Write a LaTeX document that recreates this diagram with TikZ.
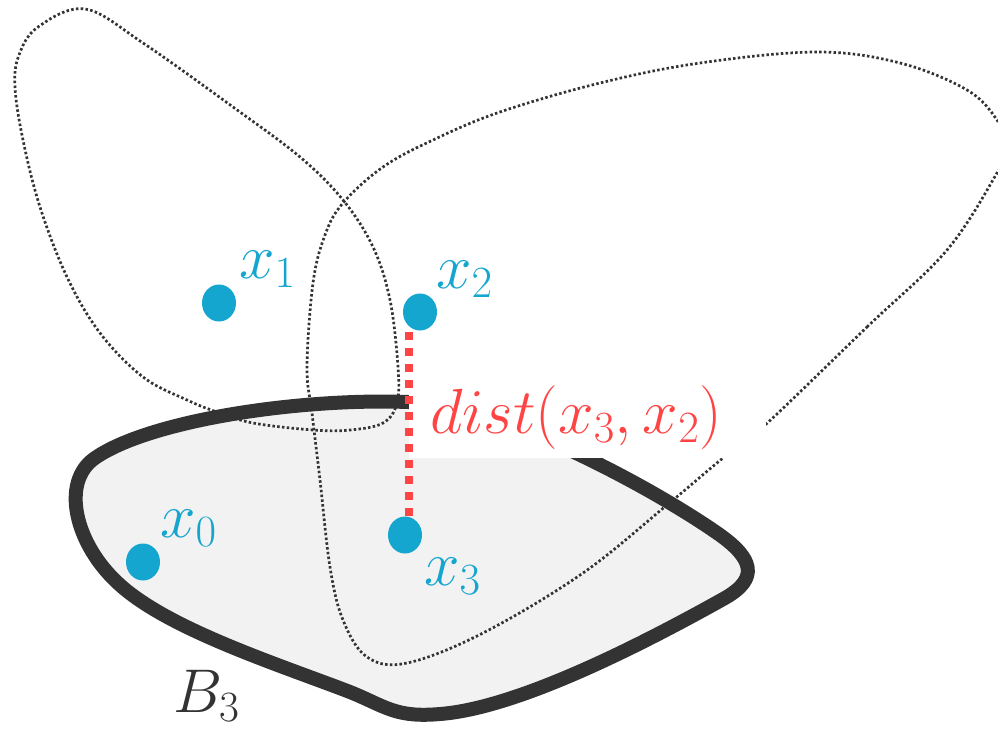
\RequirePackage{fix-cm}
\documentclass[tikz,border=0pt]{standalone}
\usetikzlibrary{shapes.geometric,calc}
\definecolor{ptblue}{HTML}{14A6CE}
\definecolor{dred}{HTML}{FF4444}
\definecolor{dgray}{HTML}{333333}
\definecolor{lgray}{HTML}{F2F2F2}
\tikzset{
  dotline/.style={draw=dgray, line width=2.7bp, dash pattern=on 2.5bp off 2.3bp},
  boundary/.style={draw=dgray, line width=14bp, line join=round},
  pt/.style={ellipse, fill=ptblue, minimum width=34bp, minimum height=37bp, inner sep=0pt},
  lab/.style={anchor=base west, inner sep=0pt, text=ptblue, font=\fontsize{64}{72}\selectfont},
  blab/.style={anchor=base west, inner sep=0pt, text=dgray, font=\fontsize{62}{70}\selectfont},
  dlab/.style={anchor=base west, inner sep=0pt, text=dred, font=\fontsize{64}{72}\selectfont},
  reddots/.style={draw=dred, line width=8bp, dash pattern=on 8bp off 8bp},
}
\begin{document}
\begin{tikzpicture}[x=1bp,y=-1bp]
\useasboundingbox (0,0) rectangle (998,735);
% B3 region outline
\def\bthree{(408,402) .. controls (300,398) and (150,420) .. (95,458)
  .. controls (60,482) and (75,545) .. (120,585)
  .. controls (170,630) and (280,665) .. (350,692)
  .. controls (385,706) and (395,718) .. (440,714)
  .. controls (520,708) and (650,640) .. (725,598)
  .. controls (760,578) and (752,558) .. (720,535)
  .. controls (660,493) and (560,440) .. (480,414)
  .. controls (450,404) and (430,402) .. cycle}
\fill[lgray] \bthree;
% dotted set A
\draw[dotline] plot[smooth cycle, tension=0.6] coordinates {(85,9) (143,43) (233,107) (300,157) (343,200) (373,247) (390,300) (398,367) (397,403) (383,423) (350,430) (313,430) (253,423) (217,412) (187,400) (143,377) (100,333) (67,277) (40,207) (23,140) (15,87) (19,55) (38,27)};
% dotted set B
\begin{scope}
\clip (0,0) rectangle (998,735);
\draw[dotline] plot[smooth cycle, tension=0.6] coordinates {(763,427) (867,327) (947,250) (997,173) (1008,148) (997,120) (967,90) (900,63) (817,52) (700,63) (600,83) (500,112) (433,140) (383,167) (343,203) (325,235) (313,283) (307,367) (312,413) (320,480) (330,567) (343,620) (367,657) (407,663) (483,633) (583,573) (667,505) (723,458)};
\end{scope}
% B3 boundary
\draw[boundary] \bthree;
% label background
\fill[white] (409,385) rectangle (766,458);
% points
\node[pt] (x0) at (143,562) {};
\node[pt] (x1) at (219,303) {};
\node[pt] (x2) at (420,312) {};
\node[pt] (x3) at (405,535) {};
% distance
\draw[reddots] ([xshift=4bp]x3.north) -- ([xshift=4bp]x3.north |- x2.south);
\node[dlab] (d) at (430,433) {$dist(x_3,x_2)$};
% labels
\node[lab] (l0) at (160,537) {$x_0$};
\node[lab] (l1) at (239,278) {$x_1$};
\node[lab] (l2) at (436,288) {$x_2$};
\node[lab] (l3) at (424,585) {$x_3$};
\node[blab] (b3) at (173,712) {$B_3$};
\end{tikzpicture}
\end{document}
